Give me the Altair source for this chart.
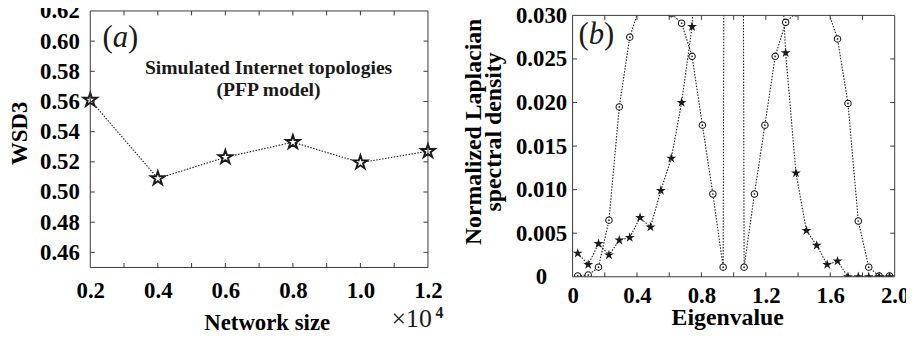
import altair as alt
import pandas as pd

# ---------------- data: panel (a) ----------------
network_size = [0.2, 0.4, 0.6, 0.8, 1.0, 1.2]          # x 10^4
wsd3 = [0.561, 0.509, 0.523, 0.533, 0.5195, 0.527]
a_x_labels = [0.2, 0.4, 0.6, 0.8, 1.0, 1.2]
a_x_ticks = [0.3, 0.4, 0.5, 0.6, 0.7, 0.8, 0.9, 1.0, 1.1]
a_y_labels = [0.46, 0.48, 0.50, 0.52, 0.54, 0.56, 0.58, 0.60, 0.62]
a_y_ticks = [0.46, 0.48, 0.50, 0.52, 0.54, 0.56, 0.58, 0.60]

# ---------------- data: panel (b) ----------------
eigenvalue = [0.032, 0.097, 0.161, 0.226, 0.290, 0.355, 0.419, 0.484, 0.548, 0.613,
              0.677, 0.742, 0.806, 0.871, 0.935, 1.000, 1.065, 1.129, 1.194, 1.258,
              1.323, 1.387, 1.452, 1.516, 1.581, 1.645, 1.710, 1.774, 1.839, 1.903, 1.968]
density_circle = [0.0001, 0.0002, 0.0011, 0.0065, 0.0195, 0.0275, 0.0311, 0.0325, 0.0325, 0.0302,
                  0.0291, 0.0253, 0.0174, 0.0095, 0.0011, 0.47, 0.0011, 0.0095, 0.0174, 0.0253,
                  0.0292, 0.0303, 0.0325, 0.0325, 0.0308, 0.0273, 0.0199, 0.0064, 0.0011, 0.0001, 0.0001]
density_star = [0.0027, 0.0014, 0.0038, 0.0025, 0.0042, 0.0045, 0.0068, 0.0057, 0.0099, 0.0136,
                0.0200, 0.0287, 0.06, 0.10, 0.13, 0.14, 0.14, 0.13, 0.10, 0.05,
                0.0257, 0.0119, 0.0053, 0.0036, 0.0014, 0.0018, 0.0, 0.0, 0.0, 0.0, 0.0]
b_x_labels = [0.0, 0.4, 0.8, 1.2, 1.6, 2.0]
b_x_ticks = [0.2, 0.4, 0.6, 0.8, 1.0, 1.2, 1.4, 1.6, 1.8]
b_y_labels = [0.0, 0.005, 0.010, 0.015, 0.020, 0.025, 0.030]
b_y_ticks = [0.005, 0.010, 0.015, 0.020, 0.025]

# ---------------- styling ----------------
FONT = "Liberation Serif"
INK = "#1a1a1a"
FRAME = "#3a3a3a"
STAR = ("M0,-1L0.2245,-0.309L0.951,-0.309L0.3633,0.118L0.5878,0.809L0,0.382"
        "L-0.5878,0.809L-0.3633,0.118L-0.951,-0.309L-0.2245,-0.309Z")
W1, H1 = 340.7, 258.8
W2, H2 = 325.0, 268.2
GAP = 145.6
TOP2 = 4.5
TICK = 4.5
LBL_FS = 23
ORIGIN_X, ORIGIN_Y = 83, 1.5
SVG_W, SVG_H = 906, 330
one = pd.DataFrame({"k": [0]})


def frame(w, top, h):
    return alt.Chart(one).mark_rect(fill="transparent", stroke=FRAME, strokeWidth=1).encode(
        x=alt.value(0), x2=alt.value(w), y=alt.value(top), y2=alt.value(h))


def ticks_x(vals, scale, top, h):
    d = pd.DataFrame({"t": vals})
    bot = alt.Chart(d).mark_rule(color=FRAME, strokeWidth=1).encode(
        x=alt.X("t:Q", scale=scale), y=alt.value(h), y2=alt.value(h - TICK))
    up = alt.Chart(d).mark_rule(color=FRAME, strokeWidth=1).encode(
        x=alt.X("t:Q", scale=scale), y=alt.value(top), y2=alt.value(top + TICK))
    return [bot, up]


def ticks_y(vals, scale, w):
    d = pd.DataFrame({"t": vals})
    lft = alt.Chart(d).mark_rule(color=FRAME, strokeWidth=1).encode(
        y=alt.Y("t:Q", scale=scale), x=alt.value(0), x2=alt.value(TICK))
    rgt = alt.Chart(d).mark_rule(color=FRAME, strokeWidth=1).encode(
        y=alt.Y("t:Q", scale=scale), x=alt.value(w), x2=alt.value(w - TICK))
    return [lft, rgt]


def panel_tag(letter, x, y, xs, ys, fs=31):
    d = pd.DataFrame({"x": [x], "y": [y]})
    parts = []
    for txt, dx, style in [("(", 0, "normal"), (letter, 0.333 * fs, "italic"),
                           (")", 0.833 * fs, "normal")]:
        parts.append(alt.Chart(d).mark_text(text=txt, font=FONT, fontSize=fs, fontStyle=style,
                                            align="left", baseline="alphabetic", dx=dx,
                                            color=INK).encode(
            x=alt.X("x:Q", scale=xs), y=alt.Y("y:Q", scale=ys)))
    return parts


# ---------------- panel (a) ----------------
df_a = pd.DataFrame({"size": network_size, "wsd3": wsd3})
xa = alt.Scale(domain=[0.2, 1.2], nice=False, zero=False)
ya = alt.Scale(domain=[0.45, 0.62], nice=False, zero=False)

a_line = alt.Chart(df_a).mark_line(color=INK, strokeWidth=1.1, strokeDash=[1.5, 1.5]).encode(
    x=alt.X("size:Q", scale=xa,
            axis=alt.Axis(values=a_x_labels, tickCount=40, format=".1f", labelPadding=12,
                          labelFlush=False, labelOverlap=False,
                          title="Network size", titleX=178, titleY=62.7,
                          titleBaseline="alphabetic", titleFontSize=23)),
    y=alt.Y("wsd3:Q", scale=ya,
            axis=alt.Axis(values=a_y_labels, tickCount=40, format=".2f", labelPadding=11,
                          labelFlush=False, labelOverlap=False,
                          title="WSD3", titleX=-64.3, titleY=123, titleAngle=270,
                          titleBaseline="alphabetic", titleFontSize=23)),
)
a_pts = alt.Chart(df_a).mark_point(shape=STAR, size=210, filled=True, fill="white", stroke=INK,
                                   strokeWidth=1.9, opacity=1).encode(
    x=alt.X("size:Q", scale=xa), y=alt.Y("wsd3:Q", scale=ya))

a_note = alt.Chart(pd.DataFrame({"x": [0.728], "y": [0.5781]})).mark_text(
    text=["Simulated Internet topologies", "(PFP model)"], font=FONT, fontWeight="bold",
    fontSize=19.8, lineHeight=21.7, align="center", baseline="alphabetic", color=INK).encode(
    x=alt.X("x:Q", scale=xa), y=alt.Y("y:Q", scale=ya))

a_exp = alt.Chart(pd.DataFrame({"x": [1.0923], "y": [0.4106]})).mark_text(
    text="\u00d710", font=FONT, fontSize=26, align="left", baseline="alphabetic", color=INK).encode(
    x=alt.X("x:Q", scale=xa), y=alt.Y("y:Q", scale=ya))
a_exp4 = alt.Chart(pd.DataFrame({"x": [1.2223], "y": [0.4165]})).mark_text(
    text="4", font=FONT, fontSize=16, fontWeight="bold", align="left", baseline="alphabetic",
    color=INK).encode(
    x=alt.X("x:Q", scale=xa), y=alt.Y("y:Q", scale=ya))

panel_a = alt.layer(
    a_line, a_pts, a_note, a_exp, a_exp4,
    frame(W1, 0, H1), *ticks_x(a_x_ticks, xa, 0, H1), *ticks_y(a_y_ticks, ya, W1),
    *panel_tag("a", 0.236, 0.5964, xa, ya),
).properties(width=W1, height=H1)

# ---------------- panel (b) ----------------
df_b = pd.DataFrame({"eig": eigenvalue, "circ": density_circle, "star": density_star})
xb = alt.Scale(domain=[0, 2], nice=False, zero=False)
yb = alt.Scale(domain=[0, 0.03], range=[H2, TOP2], nice=False, zero=False)

b_line_c = alt.Chart(df_b).mark_line(color=INK, strokeWidth=1.1, strokeDash=[1.5, 1.5],
                                     clip=True).encode(
    x=alt.X("eig:Q", scale=xb,
            axis=alt.Axis(values=b_x_labels, tickCount=40, labelPadding=8, labelFlush=False,
                          labelOverlap=False,
                          labelExpr="datum.value == 0 ? '0' : format(datum.value, '.1f')",
                          title="Eigenvalue", titleX=156, titleY=48.3,
                          titleBaseline="alphabetic", titleFontSize=24)),
    y=alt.Y("circ:Q", scale=yb,
            axis=alt.Axis(values=b_y_labels, tickCount=40, labelPadding=31.8,
                          labelAlign="center", labelFlush=False, labelOverlap=False,
                          labelExpr="datum.value == 0 ? '0' : format(datum.value, '.3f')",
                          title=["Normalized Laplacian", "spectral density"],
                          titleX=-93.3, titleY=121.5, titleAngle=270, titleLineHeight=21,
                          titleBaseline="alphabetic", titleFontSize=24)),
)
b_line_s = alt.Chart(df_b).mark_line(color=INK, strokeWidth=1.1, strokeDash=[1.5, 1.5],
                                     clip=True).encode(
    x=alt.X("eig:Q", scale=xb), y=alt.Y("star:Q", scale=yb))
b_circ = alt.Chart(df_b).mark_point(shape="circle", size=42, filled=True, fill="white",
                                    stroke=INK, strokeWidth=1.1, opacity=1, clip=True).encode(
    x=alt.X("eig:Q", scale=xb), y=alt.Y("circ:Q", scale=yb))
b_dot = alt.Chart(df_b).mark_point(shape="circle", size=3, filled=True, color=INK, opacity=1,
                                   clip=True).encode(
    x=alt.X("eig:Q", scale=xb), y=alt.Y("circ:Q", scale=yb))
b_star = alt.Chart(df_b).mark_point(shape=STAR, size=110, filled=True, color=INK, opacity=1,
                                    clip=True).encode(
    x=alt.X("eig:Q", scale=xb), y=alt.Y("star:Q", scale=yb))
b_mask = alt.Chart(one).mark_rect(fill="white", stroke="transparent").encode(
    x=alt.value(0), x2=alt.value(W2), y=alt.value(0), y2=alt.value(TOP2))

panel_b = alt.layer(
    b_line_c, b_line_s, b_circ, b_dot, b_star, b_mask,
    frame(W2, TOP2, H2), *ticks_x(b_x_ticks, xb, TOP2, H2), *ticks_y(b_y_ticks, yb, W2),
    *panel_tag("b", 0.037, 0.0267, xb, yb),
).properties(width=W2, height=H2)

chart = alt.hconcat(panel_a, panel_b, spacing=GAP, bounds="flush").properties(
    autosize=alt.AutoSizeParams(type="none"),
    padding={"left": ORIGIN_X, "top": ORIGIN_Y,
             "right": SVG_W - ORIGIN_X, "bottom": SVG_H - ORIGIN_Y},
).configure_view(stroke="transparent").configure_axis(
    labelFont=FONT, labelFontWeight="bold", labelFontSize=LBL_FS, labelColor="black",
    titleFont=FONT, titleFontWeight="bold", titleColor="black",
    domain=False, ticks=False, grid=False, labelOverlap=False,
)

chart.save("out.html", embed_options={"renderer": "svg", "actions": False})
